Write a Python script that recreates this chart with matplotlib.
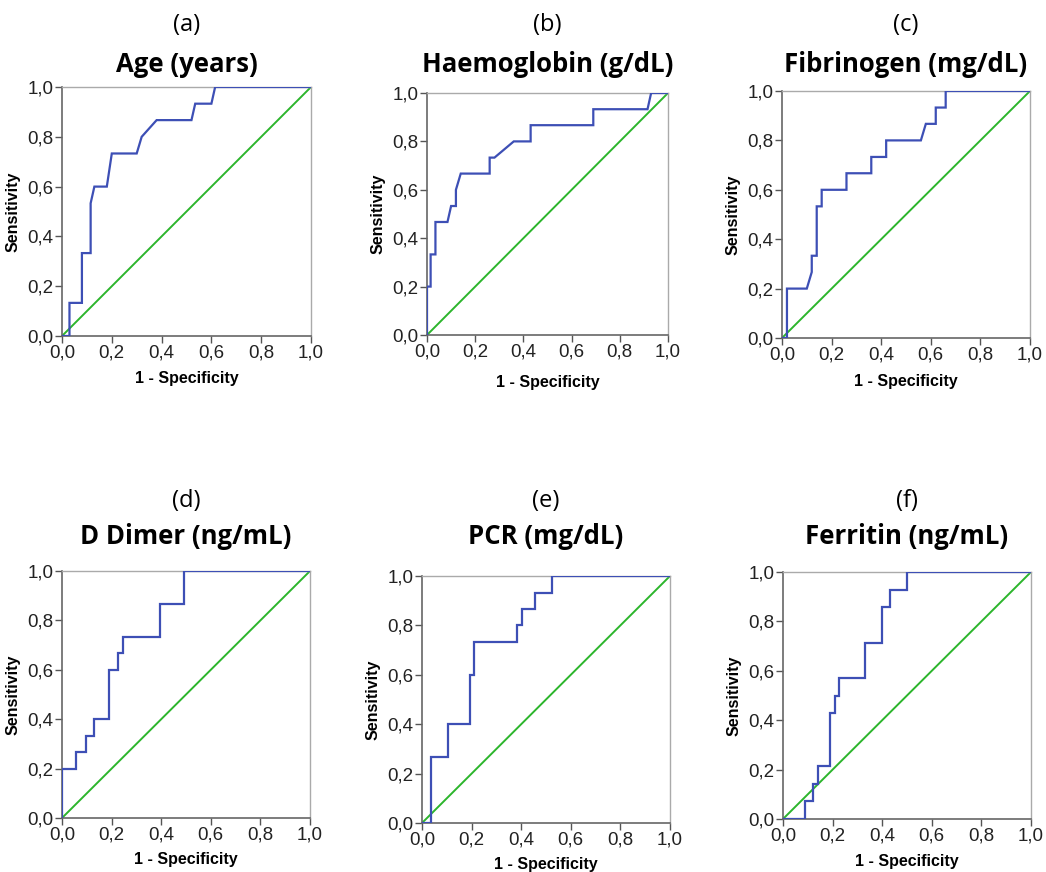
import matplotlib
matplotlib.use("Agg")
import matplotlib.pyplot as plt
from matplotlib.ticker import FixedLocator, FuncFormatter

W, H = 1046, 872

letters = ["(a)", "(b)", "(c)", "(d)", "(e)", "(f)"]
titles = ["Age (years)", "Haemoglobin (g/dL)", "Fibrinogen (mg/dL)",
          "D Dimer (ng/mL)", "PCR (mg/dL)", "Ferritin (ng/mL)"]

age_x = [0, 0.03, 0.03, 0.08, 0.08, 0.115, 0.115, 0.13, 0.18, 0.2, 0.3, 0.32, 0.38, 0.52, 0.535, 0.6, 0.615, 1.0]
age_y = [0, 0, 0.133, 0.133, 0.333, 0.333, 0.533, 0.6, 0.6, 0.733, 0.733, 0.8, 0.867, 0.867, 0.933, 0.933, 1.0, 1.0]

hb_x = [0, 0, 0.015, 0.015, 0.035, 0.035, 0.085, 0.1, 0.12, 0.12, 0.14, 0.26, 0.26, 0.28, 0.36, 0.43, 0.43, 0.69, 0.69, 0.915, 0.93, 1.0]
hb_y = [0, 0.2, 0.2, 0.333, 0.333, 0.467, 0.467, 0.533, 0.533, 0.6, 0.667, 0.667, 0.733, 0.733, 0.8, 0.8, 0.867, 0.867, 0.933, 0.933, 1.0, 1.0]

fib_x = [0, 0.02, 0.02, 0.1, 0.12, 0.12, 0.14, 0.14, 0.16, 0.16, 0.26, 0.26, 0.36, 0.36, 0.42, 0.42, 0.56, 0.58, 0.62, 0.62, 0.66, 0.66, 1.0]
fib_y = [0, 0, 0.2, 0.2, 0.267, 0.333, 0.333, 0.533, 0.533, 0.6, 0.6, 0.667, 0.667, 0.733, 0.733, 0.8, 0.8, 0.867, 0.867, 0.933, 0.933, 1.0, 1.0]

dd_x = [0, 0, 0.055, 0.055, 0.095, 0.095, 0.13, 0.13, 0.19, 0.19, 0.225, 0.225, 0.245, 0.245, 0.395, 0.395, 0.49, 0.49, 1.0]
dd_y = [0, 0.2, 0.2, 0.267, 0.267, 0.333, 0.333, 0.4, 0.4, 0.6, 0.6, 0.667, 0.667, 0.733, 0.733, 0.867, 0.867, 1.0, 1.0]

pcr_x = [0, 0.035, 0.035, 0.105, 0.105, 0.195, 0.195, 0.21, 0.21, 0.385, 0.385, 0.405, 0.405, 0.455, 0.455, 0.525, 0.525, 1.0]
pcr_y = [0, 0, 0.267, 0.267, 0.4, 0.4, 0.6, 0.6, 0.733, 0.733, 0.8, 0.8, 0.867, 0.867, 0.933, 0.933, 1.0, 1.0]

fer_x = [0, 0.09, 0.09, 0.12, 0.12, 0.14, 0.14, 0.19, 0.19, 0.21, 0.21, 0.225, 0.225, 0.33, 0.33, 0.4, 0.4, 0.43, 0.43, 0.5, 0.5, 1.0]
fer_y = [0, 0, 0.071, 0.071, 0.143, 0.143, 0.214, 0.214, 0.429, 0.429, 0.5, 0.5, 0.571, 0.571, 0.714, 0.714, 0.857, 0.857, 0.929, 0.929, 1.0, 1.0]

curves_x = [age_x, hb_x, fib_x, dd_x, pcr_x, fer_x]
curves_y = [age_y, hb_y, fib_y, dd_y, pcr_y, fer_y]

ref_line = [0.0, 1.0]
ticks = [0.0, 0.2, 0.4, 0.6, 0.8, 1.0]

# axes boxes in pixels: left, right, top, bottom
boxes = [(62, 311, 87, 336), (427, 668, 93, 335), (782, 1030, 91, 338),
         (62, 310, 571, 818), (422, 670, 576, 823), (783, 1031, 572, 819)]
letter_y = [25, 25, 25, 501, 501, 501]
title_y = [65, 65, 65, 536, 536, 536]
xlabel_y = [379, 382, 381, 859, 864, 861]

fig = plt.figure(figsize=(W / 100, H / 100), dpi=100)
fig.patch.set_facecolor("white")

title_font = ["Open Sans", "DejaVu Sans"]
fmt = FuncFormatter(lambda v, p: f"{v:.1f}".replace(".", ","))

for i in range(6):
    l, r, t, b = boxes[i]
    ax = fig.add_axes([l / W, 1 - b / H, (r - l) / W, (b - t) / H])
    ax.plot(ref_line, ref_line, color="#2CB52C", lw=1.4, zorder=2)
    ax.plot(curves_x[i], curves_y[i], color="#3D4FB5", lw=1.6, zorder=3,
            solid_joinstyle="miter")
    ax.set_xlim(0, 1)
    ax.set_ylim(0, 1)
    ax.xaxis.set_major_locator(FixedLocator(ticks))
    ax.yaxis.set_major_locator(FixedLocator(ticks))
    ax.xaxis.set_major_formatter(fmt)
    ax.yaxis.set_major_formatter(fmt)
    ax.tick_params(direction="out", length=5, width=1, color="#555555",
                   labelsize=13.5, labelcolor="#222222", pad=1)
    for lab in ax.get_xticklabels() + ax.get_yticklabels():
        lab.set_fontfamily("Liberation Sans")
    for s in ["left", "bottom"]:
        ax.spines[s].set_color("#666666")
        ax.spines[s].set_linewidth(1.2)
    for s in ["top", "right"]:
        ax.spines[s].set_color("#aaaaaa")
        ax.spines[s].set_linewidth(1.0)
    ax.set_ylabel("Sensitivity", fontsize=11.5, fontweight="bold",
                  family="Liberation Sans", labelpad=5)
    cx = (l + r) / 2 / W
    fig.text(cx, 1 - xlabel_y[i] / H, "1 - Specificity", fontsize=11.5,
             fontweight="bold", family="Liberation Sans", ha="center", va="center")
    fig.text(cx, 1 - letter_y[i] / H, letters[i], fontsize=17,
             family=title_font, ha="center", va="center")
    fig.text(cx, 1 - title_y[i] / H, titles[i], fontsize=18.5, fontweight="bold",
             family=title_font, ha="center", va="center")

fig.savefig("out.png", dpi=100, facecolor="white")
